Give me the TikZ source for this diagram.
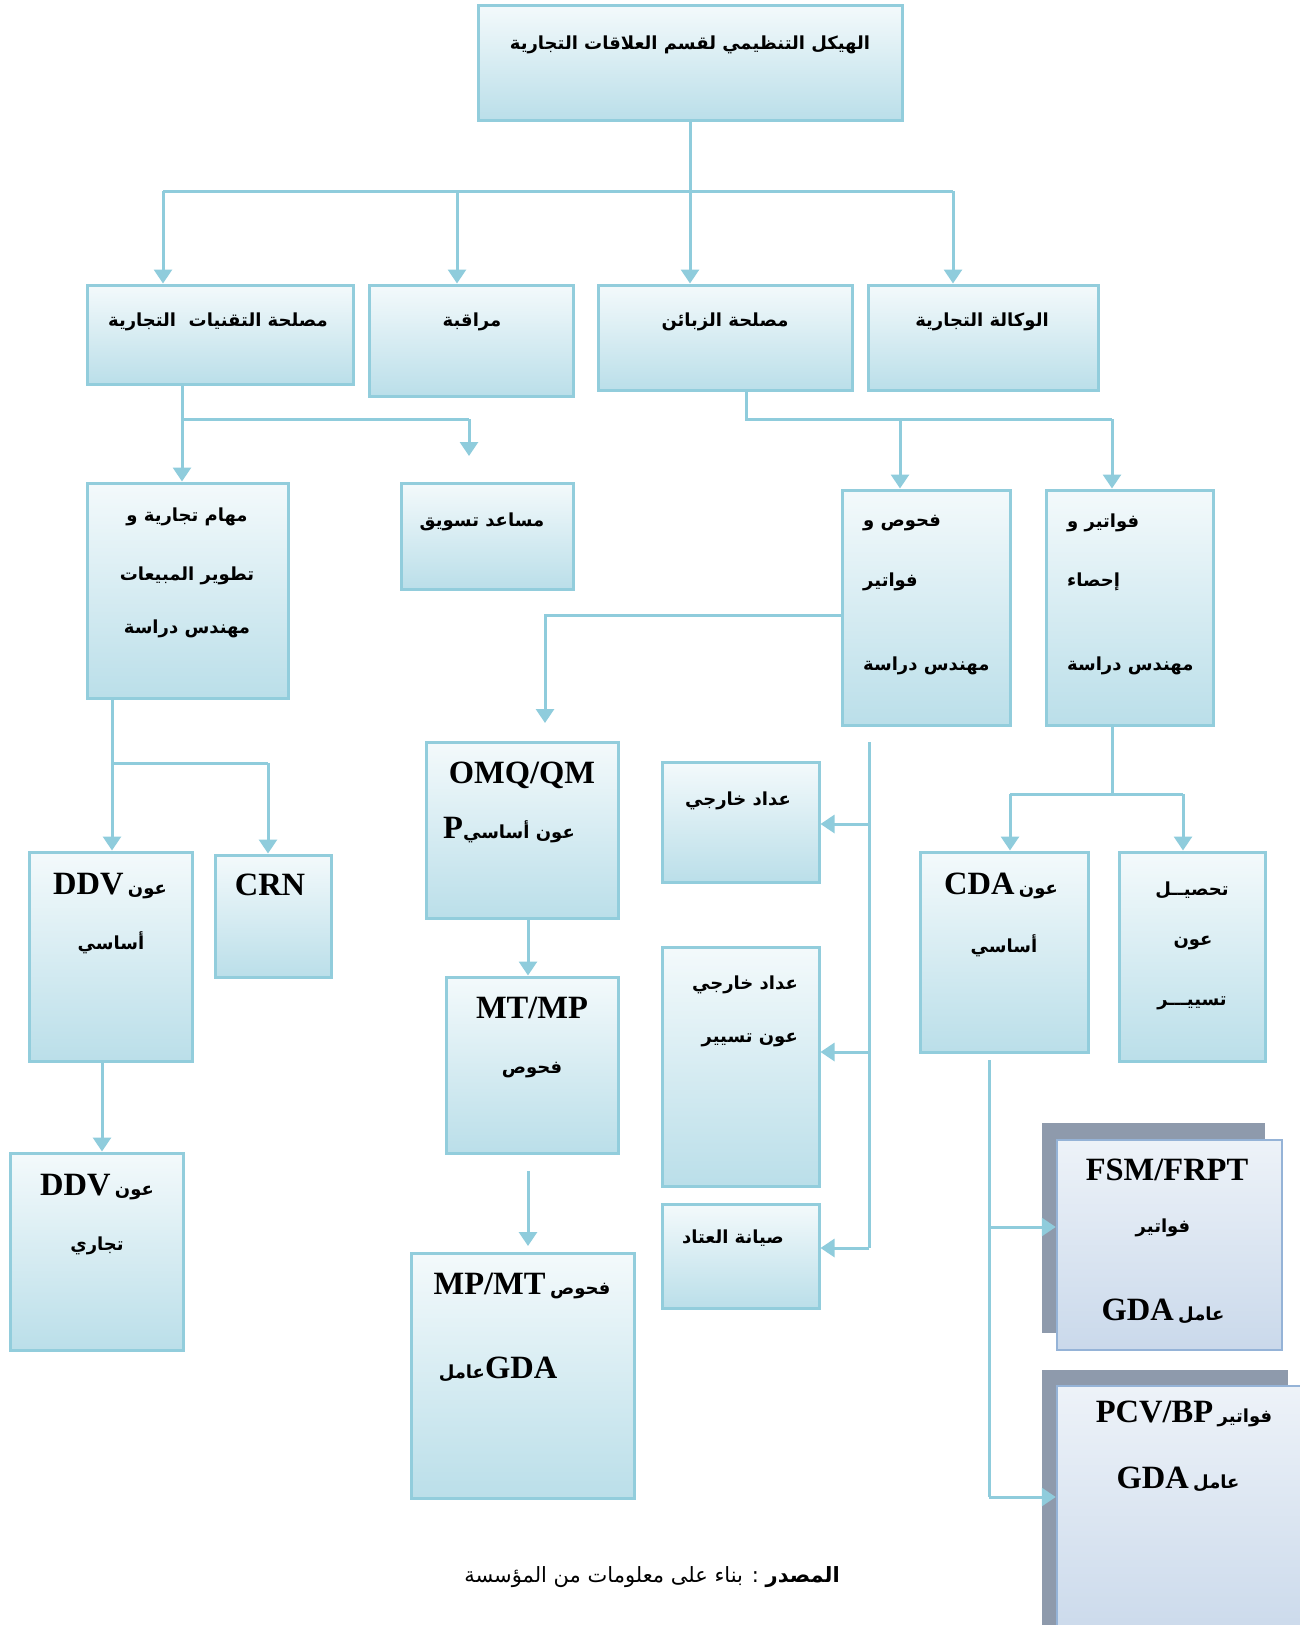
\documentclass[tikz,border=0pt]{standalone}
\usepackage{fontspec}
\setmainfont{Liberation Serif}
\newfontfamily\arfont[Script=Arabic]{DejaVu Sans}
\TeXXeTstate=1
\usetikzlibrary{arrows.meta}
\definecolor{boxbot}{HTML}{B7DDE8}
\definecolor{boxline}{HTML}{92CDDC}
\definecolor{lineblue}{HTML}{8FCCDC}
\definecolor{gbot}{HTML}{B8CCE4}
\definecolor{gline}{HTML}{95B3D7}
\definecolor{gshadow}{HTML}{8E9AAC}
\pgfdeclareverticalshading{boxsh}{100bp}{color(0bp)=(boxbot); color(22bp)=(boxbot); color(85bp)=(white); color(100bp)=(white)}
\pgfdeclareverticalshading{gsh}{100bp}{color(0bp)=(gbot); color(100bp)=(white)}
\newcommand\artx[1]{{\arfont\bfseries\beginR #1\endR}}
\newcommand\lttx[1]{{\fontsize{32.5}{36}\selectfont\bfseries #1}}
\newcommand\mkbox[6][bx]{\node[#1,minimum width={(#5-#3)*1pt},minimum height={(#6-#4)*1pt}] (#2) at ({(#3+#5)/2},{(#4+#6)/2}) {};}
\tikzset{
  bx/.style={draw=boxline,line width=3pt,shading=boxsh,inner sep=0pt,rectangle},
  gbx/.style={draw=gline,line width=2.5pt,shading=gsh,inner sep=0pt,rectangle},
  sbx/.style={fill=gshadow,draw=none,inner sep=0pt,rectangle},
  ln/.style={draw=lineblue,line width=3pt},
  arr/.style={ln,-{Triangle[length=14pt,width=18pt]}},
  tx/.style={inner sep=0pt,font=\fontsize{18}{22}\selectfont},
}
\begin{document}
\begin{tikzpicture}[x=1pt,y=-1pt]
\useasboundingbox (0,0) rectangle (1299,1625);
% boxes
\mkbox{top}{478}{5}{902}{120}
\mkbox{tech}{87}{285}{353}{384}
\mkbox{mur}{369}{285}{573}{396}
\mkbox{cust}{598}{285}{852}{390}
\mkbox{agency}{868}{285}{1098}{390}
\mkbox{maham}{87}{483}{288}{698}
\mkbox{musaid}{401}{483}{573}{589}
\mkbox{fhs}{842}{490}{1010}{725}
\mkbox{fwt}{1046}{490}{1213}{725}
\mkbox{ddva}{29}{852}{192}{1061}
\mkbox{crn}{215}{855}{331}{977}
\mkbox{ddvb}{10}{1153}{183}{1350}
\mkbox{omq}{426}{742}{618}{918}
\mkbox{mtmp}{446}{977}{618}{1153}
\mkbox{exta}{662}{762}{819}{882}
\mkbox{extb}{662}{947}{819}{1186}
\mkbox{sian}{662}{1204}{819}{1308}
\mkbox{mpmt}{411}{1253}{634}{1498}
\mkbox{cda}{920}{852}{1088}{1052}
\mkbox{tahs}{1119}{852}{1265}{1061}
\mkbox[sbx]{fsmsh}{1042}{1123}{1265}{1333}
\mkbox[gbx]{fsm}{1057}{1140}{1282}{1350}
\mkbox[sbx]{pcvsh}{1042}{1370}{1288}{1645}
\mkbox[gbx]{pcv}{1057}{1386}{1312}{1645}
% connectors
\coordinate (j0) at (690,191);
\coordinate (hL) at (163,191);
\coordinate (hM) at (457,191);
\coordinate (hR) at (953,191);
\draw[ln] (top.south) -- (j0);
\draw[ln] (hL) -- (hR);
\draw[arr] (hL) -- (hL |- tech.north);
\draw[arr] (hM) -- (hM |- mur.north);
\draw[arr] (j0) -- (j0 |- cust.north);
\draw[arr] (hR) -- (hR |- agency.north);
\coordinate (t1) at (182,419);
\coordinate (t2) at (469,419);
\coordinate (t3) at (469,456);
\draw[ln] (t1 |- tech.south) -- (t1) -- (t2);
\draw[arr] (t2) -- (t3);
\draw[arr] (t1) -- (t1 |- maham.north);
\coordinate (c1) at (746,419);
\coordinate (c2) at (1112,419);
\coordinate (c3) at (900,419);
\draw[ln] (c1 |- cust.south) -- (c1) -- (c2);
\draw[arr] (c2) -- (c2 |- fwt.north);
\draw[arr] (c3) -- (c3 |- fhs.north);
\coordinate (f1) at (545,615);
\coordinate (f2) at (545,723);
\draw[arr] (fhs.west |- f1) -- (f1) -- (f2);
\coordinate (m1) at (112,763);
\coordinate (m2) at (268,763);
\draw[ln] (m1 |- maham.south) -- (m1) -- (m2);
\draw[arr] (m1) -- (m1 |- ddva.north);
\draw[arr] (m2) -- (m2 |- crn.north);
\coordinate (dx) at (102,1100);
\draw[arr] (dx |- ddva.south) -- (dx |- ddvb.north);
\coordinate (ox) at (528,950);
\draw[arr] (ox |- omq.south) -- (ox |- mtmp.north);
\coordinate (o2) at (528,1171);
\coordinate (o3) at (528,1246);
\draw[arr] (o2) -- (o3);
\coordinate (v1) at (869,742);
\coordinate (va) at (869,824);
\coordinate (vb) at (869,1052);
\coordinate (vc) at (869,1248);
\draw[ln] (v1) -- (vc);
\draw[arr] (va) -- (va -| exta.east);
\draw[arr] (vb) -- (vb -| extb.east);
\draw[arr] (vc) -- (vc -| sian.east);
\coordinate (w1) at (1112,794);
\coordinate (w2) at (1010,794);
\coordinate (w3) at (1183,794);
\draw[ln] (w1 |- fwt.south) -- (w1);
\draw[ln] (w2) -- (w3);
\draw[arr] (w2) -- (w2 |- cda.north);
\draw[arr] (w3) -- (w3 |- tahs.north);
\coordinate (k1) at (989,1060);
\coordinate (k2) at (989,1227);
\coordinate (k3) at (989,1497);
\draw[ln] (k1) -- (k3);
\draw[arr] (k2) -- (k2 -| fsm.west);
\draw[arr] (k3) -- (k3 -| pcv.west);
% texts
\node[tx] (Ltop) at (690,45) {\artx{الهيكل التنظيمي لقسم العلاقات التجارية}};
\node[tx] (Ltech) at (218,322) {\artx{مصلحة التقنيات~~التجارية}};
\node[tx] (Lmur) at (472,322) {\artx{مراقبة}};
\node[tx] (Lcust) at (725,322) {\artx{مصلحة الزبائن}};
\node[tx] (Lagency) at (982,322) {\artx{الوكالة التجارية}};
\node[tx] (Lmahama) at (187,517) {\artx{مهام تجارية و}};
\node[tx] (Lmahamb) at (187,576) {\artx{تطوير المبيعات}};
\node[tx] (Lmahamc) at (187,629) {\artx{مهندس دراسة}};
\node[tx] (Lmusaid) at (482,522) {\artx{مساعد تسويق}};
\node[tx,anchor=west] (Lfhsa) at (863,523) {\artx{فحوص و}};
\node[tx,anchor=west] (Lfhsb) at (863,582) {\artx{فواتير}};
\node[tx,anchor=west] (Lfhsc) at (863,666) {\artx{مهندس دراسة}};
\node[tx,anchor=west] (Lfwta) at (1067,523) {\artx{فواتير و}};
\node[tx,anchor=west] (Lfwtb) at (1067,582) {\artx{إحصاء}};
\node[tx,anchor=west] (Lfwtc) at (1067,666) {\artx{مهندس دراسة}};
\node[tx,anchor=base] (Lddvaa) at (110,894) {\lttx{DDV} \artx{عون}};
\node[tx] (Lddvab) at (111,943) {\artx{أساسي}};
\node[tx,anchor=base] (Lcrn) at (270,895) {\lttx{CRN}};
\node[tx,anchor=base] (Lddvba) at (97,1195) {\lttx{DDV} \artx{عون}};
\node[tx] (Lddvbb) at (97,1246) {\artx{تجاري}};
\node[tx,anchor=base] (Lomqa) at (522,783) {\lttx{OMQ/QM}};
\node[tx,anchor=base] (Lomqb) at (509,838) {\lttx{P}\artx{عون أساسي}};
\node[tx,anchor=base] (Lmtmpa) at (532,1018) {\lttx{MT/MP}};
\node[tx] (Lmtmpb) at (532,1070) {\artx{فحوص}};
\node[tx] (Lexta) at (738,801) {\artx{عداد خارجي}};
\node[tx,anchor=east] (Lextba) at (798,985) {\artx{عداد خارجي}};
\node[tx,anchor=east] (Lextbb) at (798,1040) {\artx{عون تسيير}};
\node[tx] (Lsian) at (733,1238) {\artx{صيانة العتاد}};
\node[tx,anchor=base] (Lmpmta) at (522,1294) {\lttx{MP/MT} \artx{فحوص}};
\node[tx,anchor=base] (Lmpmtb) at (498,1378) {\artx{عامل}\lttx{GDA}};
\node[tx,anchor=base] (Lcdaa) at (1001,894) {\lttx{CDA} \artx{عون}};
\node[tx] (Lcdab) at (1004,946) {\artx{أساسي}};
\node[tx] (Ltahsa) at (1192,890) {\artx{تحصيــل}};
\node[tx] (Ltahsb) at (1193,943) {\artx{عون}};
\node[tx] (Ltahsc) at (1192,1003) {\artx{تسييـــر}};
\node[tx,anchor=base] (Lfsma) at (1167,1180) {\lttx{FSM/FRPT}};
\node[tx] (Lfsmb) at (1163,1228) {\artx{فواتير}};
\node[tx,anchor=base] (Lfsmc) at (1163,1320) {\lttx{GDA} \artx{عامل}};
\node[tx,anchor=base] (Lpcva) at (1184,1422) {\lttx{PCV/BP} \artx{فواتير}};
\node[tx,anchor=base] (Lpcvb) at (1178,1488) {\lttx{GDA} \artx{عامل}};
\node[tx,font=\fontsize{21}{24}\selectfont] (Lsrc) at (652,1577) {{\arfont\beginR{\bfseries المصدر} : بناء على معلومات من المؤسسة\endR}};
\end{tikzpicture}
\end{document}
